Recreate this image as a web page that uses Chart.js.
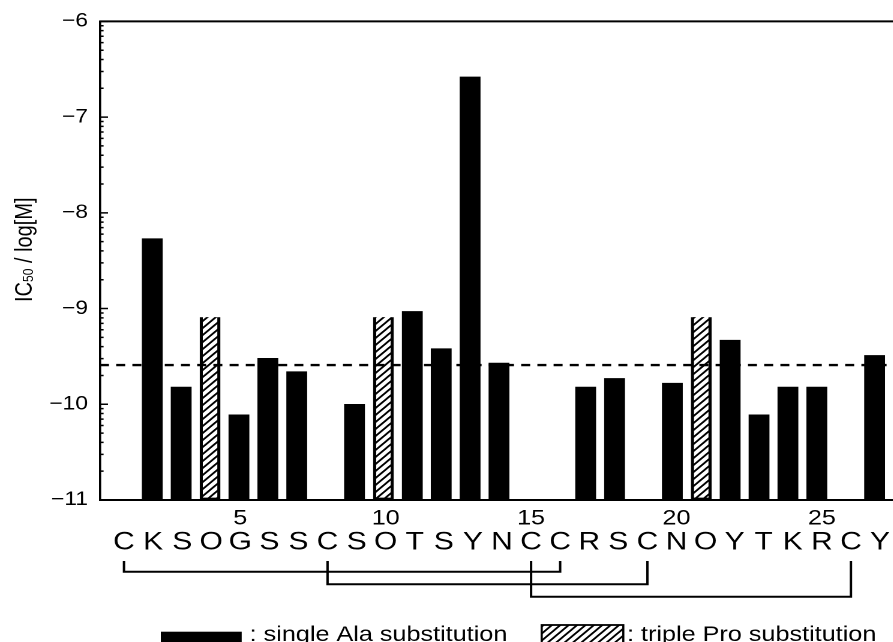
<!DOCTYPE html>
<html>
<head>
<meta charset="utf-8">
<script src="https://cdn.jsdelivr.net/npm/chart.js@4.4.0/dist/chart.umd.min.js"></script>
<style>
  html, body { margin: 0; padding: 0; background: #fff; overflow: hidden; }
  /* the source figure is stretched sideways, so draw narrow and scale it */
  #wrap { width: 744px; height: 642px; transform: scaleX(1.2); transform-origin: 0 0; }
</style>
</head>
<body>
<div id="wrap"><canvas id="chart"></canvas></div>
<script>
// peptide sequence, positions 1..27
const residues = ['C','K','S','O','G','S','S','C','S','O','T','S','Y','N','C','C','R','S','C','N','O','Y','T','K','R','C','Y'];
const positionLabels = [5, 10, 15, 20, 25];

// single Ala substitution analogues (IC50, log[M])
const alaPositions = [2, 3, 5, 6, 7, 9, 11, 12, 13, 14, 17, 18, 20, 22, 23, 24, 25, 27];
const alaValues = [-8.27, -9.82, -10.11, -9.52, -9.66, -10.00, -9.03, -9.42, -6.58, -9.57, -9.82, -9.73, -9.78, -9.33, -10.11, -9.82, -9.82, -9.49];

// triple Pro substitution analogues
const proPositions = [4, 10, 21];
const proValues = [-9.09, -9.09, -9.09];

// native peptide level (dashed line)
const wildTypeIC50 = -9.59;

// disulfide bridges drawn under the sequence
const disulfideBonds = [[1, 16], [8, 19], [15, 26]];

const legendLabels = [': single Ala substitution', ': triple Pro substitution'];

const yMin = -11, yMax = -6;
const FONT = "'Liberation Sans', Arial, Helvetica, sans-serif";

// diagonal hatch fill
function makeHatch() {
    const c = document.createElement('canvas');
    c.width = 14; c.height = 14;
    const g = c.getContext('2d');
    g.strokeStyle = '#000';
    g.lineWidth = 3.4;
    g.beginPath();
    g.moveTo(0, 14); g.lineTo(14, 0);
    g.moveTo(-7, 7); g.lineTo(7, -7);
    g.moveTo(7, 21); g.lineTo(21, 7);
    g.stroke();
    const p = g.createPattern(c, 'repeat');
    p.setTransform(new DOMMatrix().scale(0.5));
    return p;
}
const hatch = makeHatch();

// dashed reference line behind the bars
const refLine = {
    id: 'refLine',
    beforeDatasetsDraw(chart) {
        const { ctx, chartArea, scales: { y } } = chart;
        const py = y.getPixelForValue(wildTypeIC50);
        ctx.save();
        ctx.setLineDash([7.5, 6]);
        ctx.lineWidth = 2.4;
        ctx.strokeStyle = '#000';
        ctx.beginPath();
        ctx.moveTo(chartArea.left, py);
        ctx.lineTo(chartArea.right, py);
        ctx.stroke();
        ctx.restore();
    }
};

// frame top, inner log ticks, bridges, legend and y title
const decor = {
    id: 'decor',
    afterDraw(chart) {
        const { ctx, chartArea, scales: { y, xl } } = chart;
        ctx.save();
        ctx.strokeStyle = '#000';
        ctx.fillStyle = '#000';

        // top frame line
        ctx.lineWidth = 2;
        ctx.beginPath();
        ctx.moveTo(chartArea.left, chartArea.top);
        ctx.lineTo(chart.width, chartArea.top);
        ctx.stroke();

        // inward ticks on the y axis, minor ones log spaced
        ctx.lineWidth = 1.5;
        ctx.beginPath();
        for (let d = yMin; d < yMax; d++) {
            const py = y.getPixelForValue(d);
            ctx.moveTo(chartArea.left, py);
            ctx.lineTo(chartArea.left + 6.7, py);
            for (let k = 2; k <= 9; k++) {
                const pm = y.getPixelForValue(d + Math.log10(k));
                ctx.moveTo(chartArea.left, pm);
                ctx.lineTo(chartArea.left + 3, pm);
            }
        }
        const pt = y.getPixelForValue(yMax);
        ctx.moveTo(chartArea.left, pt);
        ctx.lineTo(chartArea.left + 6.7, pt);
        ctx.stroke();

        // disulfide bridges
        ctx.lineWidth = 2;
        disulfideBonds.forEach((b, i) => {
            const x1 = xl.getPixelForValue(b[0]);
            const x2 = xl.getPixelForValue(b[1]);
            const top = 561;
            const low = 571.7 + i * 12.5;
            ctx.beginPath();
            ctx.moveTo(x1, top);
            ctx.lineTo(x1, low);
            ctx.lineTo(x2, low);
            ctx.lineTo(x2, top);
            ctx.stroke();
        });

        // legend
        ctx.font = '21px ' + FONT;
        ctx.textBaseline = 'alphabetic';
        ctx.fillRect(134, 631.7, 67.4, 14);
        ctx.fillText(legendLabels[0], 208, 641);
        ctx.fillStyle = hatch;
        ctx.fillRect(451.4, 625, 68, 20);
        ctx.lineWidth = 1.8;
        ctx.strokeRect(451.4, 625, 68, 20);
        ctx.fillStyle = '#000';
        ctx.fillText(legendLabels[1], 522.5, 641);

        // y axis title with subscript
        const midY = (chartArea.top + chartArea.bottom) / 2 - 11;
        ctx.translate(26.4, midY);
        ctx.rotate(-Math.PI / 2);
        const big = '20px ' + FONT, small = '12px ' + FONT;
        ctx.font = big;
        const w1 = ctx.measureText('IC').width;
        const w3 = ctx.measureText(' / log[M]').width;
        ctx.font = small;
        const w2 = ctx.measureText('50').width;
        let x0 = -(w1 + w2 + w3) / 2;
        ctx.font = big;
        ctx.fillText('IC', x0, 0);
        ctx.font = small;
        ctx.fillText('50', x0 + w1, 1);
        ctx.font = big;
        ctx.fillText(' / log[M]', x0 + w1 + w2, 0);
        ctx.restore();
    }
};

const xRange = { min: 0.19, max: 27.63 };     // bar positions
const seqRange = { min: 0.174, max: 27.44 };  // typed sequence positions

new Chart(document.getElementById('chart'), {
    type: 'bar',
    data: {
        datasets: [
            {
                label: 'single Ala substitution',
                data: alaPositions.map((p, i) => ({ x: p, y: [yMin, alaValues[i]] })),
                backgroundColor: '#000',
                borderWidth: 0,
                barThickness: 16.7,
                grouped: false,
                xAxisID: 'x',
                yAxisID: 'y'
            },
            {
                label: 'triple Pro substitution',
                data: proPositions.map((p, i) => ({ x: p, y: [yMin, proValues[i]] })),
                backgroundColor: hatch,
                borderColor: '#000',
                borderWidth: 2,
                borderSkipped: 'start',
                barThickness: 16.7,
                grouped: false,
                xAxisID: 'x',
                yAxisID: 'y'
            }
        ]
    },
    options: {
        responsive: true,
        maintainAspectRatio: false,
        animation: false,
        devicePixelRatio: 2,
        layout: { padding: { left: 0, top: 19, right: 0, bottom: 86 } },
        scales: {
            x: {
                type: 'linear',
                position: 'bottom',
                weight: 0,
                min: xRange.min,
                max: xRange.max,
                offset: false,
                bounds: 'data',
                grid: { display: false, drawTicks: false, offset: false },
                border: { display: true, color: '#000', width: 2 },
                ticks: { display: false },
                afterFit: (s) => { s.height = 0; }
            },
            xn: {
                type: 'linear',
                position: 'bottom',
                weight: 1,
                min: seqRange.min,
                max: seqRange.max,
                offset: false,
                bounds: 'data',
                grid: { display: false, drawTicks: false, offset: false },
                border: { display: false },
                afterBuildTicks: (s) => { s.ticks = positionLabels.map(v => ({ value: v })); },
                ticks: {
                    autoSkip: false, maxRotation: 0, minRotation: 0,
                    padding: 6,
                    color: '#000',
                    font: { size: 21, family: FONT },
                    callback: (v) => String(v)
                },
                afterFit: (s) => { s.height = 26; }
            },
            xl: {
                type: 'linear',
                position: 'bottom',
                weight: 2,
                min: seqRange.min,
                max: seqRange.max,
                offset: false,
                bounds: 'data',
                grid: { display: false, drawTicks: false, offset: false },
                border: { display: false },
                afterBuildTicks: (s) => { s.ticks = residues.map((r, i) => ({ value: i + 1 })); },
                ticks: {
                    autoSkip: false, maxRotation: 0, minRotation: 0,
                    padding: 1.5,
                    color: '#000',
                    font: { size: 25, family: FONT },
                    callback: (v) => residues[v - 1] || ''
                },
                afterFit: (s) => { s.height = 30; }
            },
            y: {
                type: 'linear',
                min: yMin,
                max: yMax,
                beginAtZero: false,
                grid: { display: false, drawTicks: false },
                border: { display: true, color: '#000', width: 1.8 },
                ticks: {
                    stepSize: 1,
                    padding: 10,
                    color: '#000',
                    font: { size: 19, family: FONT },
                    callback: (v) => '\u2212' + Math.abs(v)
                },
                afterFit: (s) => { s.width = 83.3; }
            }
        },
        plugins: {
            legend: { display: false },
            tooltip: { enabled: false }
        }
    },
    plugins: [refLine, decor]
});
</script>
</body>
</html>
